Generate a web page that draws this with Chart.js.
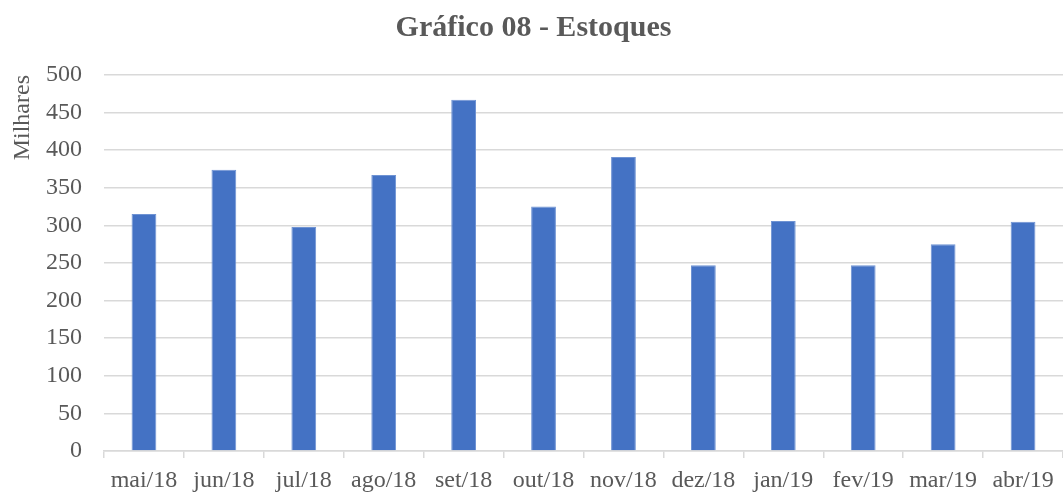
<!DOCTYPE html>
<html>
<head>
<meta charset="utf-8">
<script src="https://cdn.jsdelivr.net/npm/chart.js@4"></script>
<style>
  html, body { margin: 0; padding: 0; background: #fff; }
  #wrap { width: 1063px; height: 493px; position: relative; }
</style>
</head>
<body>
<div id="wrap"><canvas id="chart"></canvas></div>
<script>
/* ── DATA ───────────────────────────────────────────────────────────── */
const months  = ['mai/18','jun/18','jul/18','ago/18','set/18','out/18','nov/18','dez/18','jan/19','fev/19','mar/19','abr/19'];
const estoque = [315, 374, 298, 367, 467, 325, 391, 247, 306, 247, 275, 305];
const yTicks  = [0, 50, 100, 150, 200, 250, 300, 350, 400, 450, 500];

/* ── STYLE ──────────────────────────────────────────────────────────── */
const txt   = '#595959';
const grid  = '#d9d9d9';
const serif = "'Liberation Serif', 'DejaVu Serif', serif";

new Chart(document.getElementById('chart'), {
  type: 'bar',
  data: {
    labels: months,
    datasets: [{
      label: 'Estoques',
      data: estoque,
      backgroundColor: '#4472c4',
      borderColor: '#6f93d3',
      borderWidth: 1,
      categoryPercentage: 1,
      barPercentage: 0.31,
    }],
  },
  options: {
    responsive: true, maintainAspectRatio: false, animation: false,
    layout: { padding: { left: 4, right: 0, top: 4, bottom: 0 } },
    plugins: {
      legend: { display: false },
      tooltip: { enabled: false },
      title: {
        display: true, text: 'Gráfico 08 - Estoques', color: txt,
        font: { family: serif, size: 30, weight: 'bold' },
        padding: { top: 6, bottom: 29 },
      },
    },
    scales: {
      x: {
        offset: true,
        afterFit: ax => { ax.height = 42; },
        grid: { offset: true, drawOnChartArea: false, color: grid, lineWidth: 1.5, tickLength: 7 },
        border: { display: true, color: grid, width: 1.5 },
        ticks: { color: txt, font: { family: serif, size: 24 }, padding: 8, maxRotation: 0, autoSkip: false },
      },
      y: {
        min: 0, max: 500,
        afterBuildTicks: ax => { ax.ticks = yTicks.map(v => ({ value: v })); },
        afterFit: ax => { ax.width = 100; },
        grid: { color: grid, lineWidth: 1.5, drawTicks: false },
        border: { display: false },
        ticks: { color: txt, font: { family: serif, size: 24 }, padding: 22 },
        title: {
          display: true, text: 'Milhares', align: 'end', color: txt,
          font: { family: serif, size: 24 }, padding: { top: 4, bottom: 4 },
        },
      },
    },
  },
});
</script>
</body>
</html>
